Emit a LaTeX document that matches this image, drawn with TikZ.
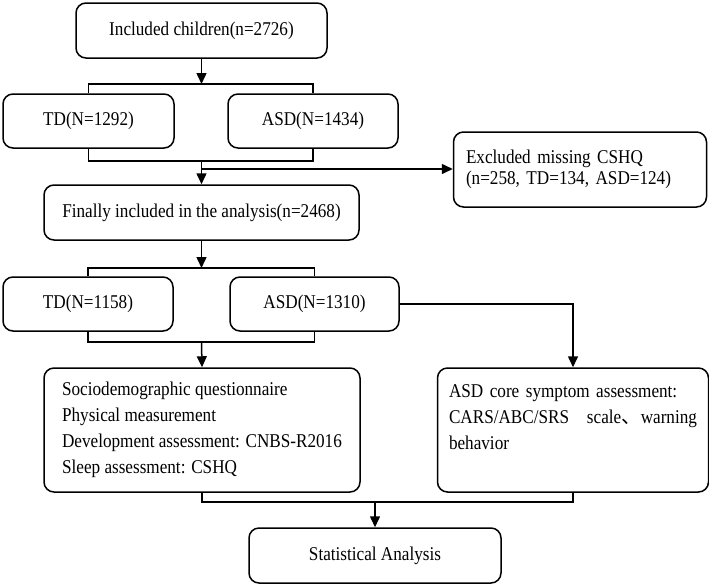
\documentclass[tikz,border=0pt]{standalone}
\usepackage{fontspec}
\setmainfont[FakeStretch=0.88]{Liberation Serif}
\newfontfamily\cjk{Noto Sans CJK SC}
\usetikzlibrary{arrows.meta}
\begin{document}
\begin{tikzpicture}[x=1pt,y=-1pt,
  box/.style={draw, line width=1.5pt, rounded corners=10pt, inner sep=0pt,
    font=\fontsize{19.5}{26}\selectfont},
  conn/.style={line width=1.5pt, line join=miter},
  arr/.style={conn, -{Triangle[length=11pt,width=10pt]}}]
\useasboundingbox (0,0) rectangle (709,587);
% boxes
\node[box, minimum width=251pt, minimum height=55pt] (b1) at (201.5,30.5) {Included children(n=2726)};
\node[box, minimum width=171pt, minimum height=54pt] (td1) at (88.5,121) {TD(N=1292)};
\node[box, minimum width=170pt, minimum height=54pt] (asd1) at (313,121) {ASD(N=1434)};
\node[box, minimum width=253pt, minimum height=75pt, text width=228pt, align=left,
  font=\fontsize{19.5}{21}\selectfont] (excl) at (580,169.5) {Excluded missing CSHQ\\ (n=258, TD=134, ASD=124)};
\node[box, minimum width=315pt, minimum height=55pt] (fin) at (201.5,212.5) {Finally included in the analysis(n=2468)};
\node[box, minimum width=170pt, minimum height=54pt] (td2) at (88,304) {TD(N=1158)};
\node[box, minimum width=169pt, minimum height=54pt] (asd2) at (314.5,304) {ASD(N=1310)};
\node[box, minimum width=316pt, minimum height=124pt, align=left] (socio) at (202,430)
  {Sociodemographic questionnaire\\ Physical measurement\\ Development assessment: CNBS-R2016\\ Sleep assessment: CSHQ};
\node[box, minimum width=271pt, minimum height=124pt, text width=248pt, align=left] (core) at (573,430)
  {ASD core symptom assessment:\\ \makebox[248pt][l]{CARS/ABC/SRS\hfill scale{\cjk 、}warning}\\ behavior\\ \mbox{}};
\node[box, minimum width=252pt, minimum height=55pt] (stat) at (375,555.5) {Statistical Analysis};
% junction points
\coordinate (j1) at (201.5,84);
\coordinate (j2) at (201.5,161);
\coordinate (j3) at (201.5,169);
\coordinate (j4) at (201.5,268);
\coordinate (j5) at (201.5,342);
\coordinate (j6) at (375,502);
% connectors
\draw[arr] (b1.south) -- (j1);
\draw[conn] (td1.north) -- (td1.north |- j1) -- (asd1.north |- j1) -- (asd1.north);
\draw[conn] (td1.south) -- (td1.south |- j2) -- (asd1.south |- j2) -- (asd1.south);
\draw[arr] (j2) -- (fin.north);
\draw[arr] (j3) -- (excl.west |- j3);
\draw[arr] (fin.south) -- (j4);
\draw[conn] (td2.north) -- (td2.north |- j4) -- (asd2.north |- j4) -- (asd2.north);
\draw[conn] (td2.south) -- (td2.south |- j5) -- (asd2.south |- j5) -- (asd2.south);
\draw[arr] (j5) -- (socio.north);
\draw[arr] (asd2.east) -| (core.north);
\draw[conn] (socio.south) -- (socio.south |- j6) -- (core.south |- j6) -- (core.south);
\draw[arr] (j6) -- (stat.north);
\end{tikzpicture}
\end{document}
